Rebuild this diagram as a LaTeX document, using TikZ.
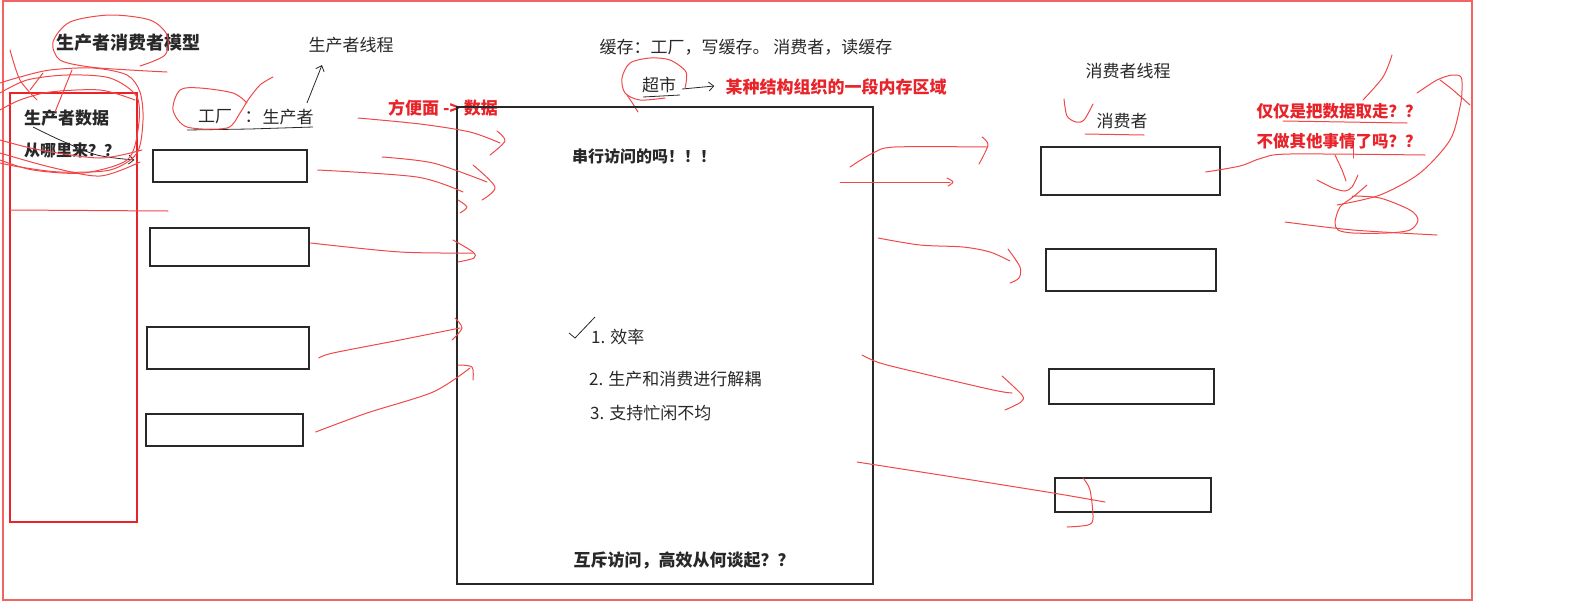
\documentclass[tikz,border=0pt]{standalone}
\usepackage{fontspec}
\setmainfont{Noto Sans CJK SC}
\usetikzlibrary{arrows.meta,positioning,calc}
\definecolor{penred}{RGB}{240,72,72}
\definecolor{mark}{RGB}{232,36,42}
\definecolor{ink}{RGB}{40,40,40}
\tikzset{
  slot/.style={draw=ink, line width=1.3pt, rectangle, inner sep=0pt},
  word/.style={font=\fontsize{17}{20}\selectfont, inner sep=0pt, text=ink},
  bword/.style={word, font=\fontsize{17}{20}\selectfont\bfseries},
  rword/.style={bword, text=mark},
  scrib/.style={draw=penred, line width=1pt, line cap=round, line join=round},
  inkarrow/.style={draw=ink, line width=0.8pt, -{Straight Barb[length=5pt,width=9pt]}},
}

\begin{document}
\begin{tikzpicture}[x=1pt,y=-1pt]
        \useasboundingbox (0,0) rectangle (1589,603);
        \draw[penred!85, line width=1.2pt] (3,1) rectangle (1472,600);

        % producer side
        \node[bword, font=\fontsize{18}{20}\selectfont\bfseries] (title) at (128,43) {生产者消费者模型};
        \node[word] (pthread) at (351,45) {生产者线程};
        \node[word] (factory) at (215,117) {工厂};
        \node[word] (colon) at (253,117) {：};
        \node[word] (producer) at (288,117) {生产者};
        \draw[ink, line width=0.8pt] (187,130) -- (250,129) -- (313,127);
        \draw[inkarrow] ([xshift=19pt,yshift=6pt]producer.north) -- ([xshift=-29pt,yshift=-12pt]pthread.south);
        \node[rword] (noodle) at (443,108) {方便面 -> 数据};

        \node[draw=mark, line width=2.6pt, inner sep=0pt, minimum width=127pt, minimum height=429pt] (source) at (73.5,307.5) {};
        \node[bword, anchor=west] (ask1) at (24,118) {生产者数据};
        \node[bword, anchor=west, font=\fontsize{16}{20}\selectfont\bfseries] (ask2) at (24,150) {从哪里来？？};

        \node[slot, minimum width=154pt, minimum height=32pt] (p1) at (230,166) {};
        \node[slot, minimum width=159pt, minimum height=38pt] (p2) at (229.5,247) {};
        \node[slot, minimum width=162pt, minimum height=42pt] (p3) at (228,348) {};
        \node[slot, minimum width=157pt, minimum height=32pt] (p4) at (224.5,430) {};

        \draw[inkarrow] plot[smooth] coordinates {([xshift=9pt,yshift=-9pt]ask1.west) (60,140) (97,155) ([xshift=-18pt,yshift=6pt]p1.west)};

        % buffer
        \node[word] (cache) at (746,47) {缓存：工厂，写缓存。 消费者，读缓存};
        \node[word] (market) at (659,85) {超市};
        \node[rword] (memory) at (836,87) {某种结构组织的一段内存区域};
        \draw[ink, line width=0.8pt] (643,97) -- (680,95);
        \draw[inkarrow] ([xshift=6pt,yshift=-4pt]market.east) -- ([xshift=-11pt,yshift=1pt]memory.west);
        \draw[scrib] plot[smooth] coordinates {(685,88) (686,72) (670,60) (650,58) (630,63) (622,78) (625,93) (640,100) (665,98)};
        \draw[scrib] plot[smooth] coordinates {(627,95) (633,104) (638,112)};

        \node[slot, line width=1.2pt, minimum width=416pt, minimum height=477pt] (buffer) at (665,345.5) {};
        \node[bword, font=\fontsize{16}{20}\selectfont\bfseries] (serial) at (644,156) {串行访问的吗！！！};
        \node[word, anchor=west] (gain1) at (591,337) {1. 效率};
        \node[word, anchor=west] (gain2) at (589,379) {2. 生产和消费进行解耦};
        \node[word, anchor=west] (gain3) at (590,413) {3. 支持忙闲不均};
        \node[bword] (mutex) at (684,560) {互斥访问，高效从何谈起？？};
        \draw[ink, line width=0.8pt] (569,333) -- (575,338) -- (595,317);

        % consumer side
        \node[word] (cthread) at (1128,71) {消费者线程};
        \node[word] (consumer) at (1122,121) {消费者};
        \node[slot, minimum width=179pt, minimum height=48pt] (c1) at (1130.5,171) {};
        \node[slot, minimum width=170pt, minimum height=42pt] (c2) at (1131,270) {};
        \node[slot, minimum width=165pt, minimum height=35pt] (c3) at (1131.5,386.5) {};
        \node[slot, minimum width=156pt, minimum height=34pt] (c4) at (1133,495) {};
        \node[rword, font=\fontsize{16.5}{20}\selectfont\bfseries] (only1) at (1339,111) {仅仅是把数据取走？？};
        \node[rword, font=\fontsize{16.5}{20}\selectfont\bfseries] (only2) at (1339,141) {不做其他事情了吗？？};

        % red scribbles, left
        \draw[scrib] plot[smooth] coordinates {(140,66) (165,55) (167,35) (150,20) (110,15) (70,22) (53,42) (60,60) (90,67) (130,70) (167,72)};
        \draw[scrib] plot[smooth] coordinates {(0,83) (20,77) (50,70) (93,68) (127,75) (140,92) (143,120) (137,153) (110,170) (60,172) (20,167) (0,163)};
        \draw[scrib] plot[smooth] coordinates {(0,93) (27,80) (67,75) (110,78) (137,97) (138,130) (127,160) (83,173) (33,170) (0,160)};
        \draw[scrib] plot[smooth] coordinates {(0,140) (40,150) (100,158) (142,150)};
        \draw[scrib] plot[smooth] coordinates {(0,153) (50,167) (100,176) (140,162)};
        \draw[scrib] plot[smooth] coordinates {(0,110) (20,100) (50,92) (100,90) (135,100)};
        \draw[scrib] plot[smooth] coordinates {(10,50) (20,80) (37,100)};
        \draw[scrib] (72,70) -- (55,112);
        \draw[scrib] (43,73) -- (30,90);
        \draw[scrib] (10,210) -- (168,211);
        \draw[scrib] plot[smooth] coordinates {(247,103) (233,93) (200,88) (180,90) (173,110) (187,127) (227,128) (240,113) (248,100) (260,85) (273,77)};

        % red scribbles, producers to buffer
        \draw[scrib] plot[smooth] coordinates {(358,118) (420,124) (470,132) (500,143)};
        \draw[scrib] plot[smooth] coordinates {(497,131) (505,141) (490,155)};
        \draw[scrib] plot[smooth] coordinates {(382,157) (433,163) (487,182)};
        \draw[scrib] plot[smooth] coordinates {(473,165) (495,187) (482,200)};
        \draw[scrib] plot[smooth] coordinates {([xshift=10pt,yshift=-4pt]p1.east) (417,177) (463,192)};
        \draw[scrib] plot[smooth] coordinates {(458,200) (467,207) (460,213)};
        \draw[scrib] plot[smooth] coordinates {([xshift=1pt,yshift=4pt]p2.east) (400,252) (473,253)};
        \draw[scrib] plot[smooth] coordinates {(453,240) (473,252) (474,258) (458,262)};
        \draw[scrib] plot[smooth] coordinates {([xshift=9pt,yshift=-10pt]p3.east) (333,353) (400,340) (460,328)};
        \draw[scrib] plot[smooth] coordinates {(455,318) (462,328) (452,340)};
        \draw[scrib] plot[smooth] coordinates {([xshift=12pt,yshift=-2pt]p4.east) (367,413) (433,392) (470,368)};
        \draw[scrib] plot[smooth] coordinates {(458,365) (472,367) (473,380)};

        % red scribbles, buffer to consumers
        \draw[scrib] plot[smooth] coordinates {(850,167) (873,153) (895,147) (987,147)};
        \draw[scrib] plot[smooth] coordinates {(982,137) (988,145) (979,164)};
        \draw[scrib] (840,182) -- (950,182);
        \draw[scrib] plot[smooth] coordinates {(947,178) (953,182) (948,186)};
        \draw[scrib] plot[smooth] coordinates {(878,238) (920,245) (963,247) (990,252) (1010,261)};
        \draw[scrib] plot[smooth] coordinates {(1008,249) (1020,267) (1019,278) (1010,283)};
        \draw[scrib] plot[smooth] coordinates {(862,355) (880,363) (920,373) (993,390) (1012,393)};
        \draw[scrib] plot[smooth] coordinates {(1002,376) (1022,395) (1021,402) (1005,410)};
        \draw[scrib] plot[smooth] coordinates {(857,462) (953,477) (1053,493) (1105,502)};
        \draw[scrib] plot[smooth] coordinates {(1083,478) (1090,490) (1093,518) (1088,525) (1067,527)};

        % red scribbles, right
        \draw[scrib] plot[smooth] coordinates {(1064,99) (1067,116) (1076,122) (1084,120) (1093,104)};
        \draw[scrib] (1085,134) -- (1144,135);
        \draw[scrib] plot[smooth] coordinates {([xshift=-15pt,yshift=-1pt]c1.east) (1240,166) (1262,158) (1290,154) (1425,155)};
        \draw[scrib] (1283,121) -- (1407,123);
        \draw[scrib] (1353,148) -- (1353,158);
        \draw[scrib] plot[smooth] coordinates {(1335,155) (1342,170) (1346,181)};
        \draw[scrib] plot[smooth] coordinates {(1317,180) (1333,188) (1345,191) (1352,187) (1358,175)};
        \draw[scrib] plot[smooth] coordinates {(1392,55) (1383,77) (1363,100)};
        \draw[scrib] plot[smooth] coordinates {(1417,93) (1437,80) (1452,75) (1461,77) (1462,90) (1460,107) (1450,140) (1420,173) (1380,195) (1337,205)};
        \draw[scrib] plot[smooth] coordinates {(1352,196) (1380,198) (1410,210) (1418,220) (1410,230) (1387,233) (1353,233) (1338,230) (1335,222) (1340,207) (1353,197) (1367,185)};
        \draw[scrib] plot[smooth] coordinates {(1440,80) (1453,90) (1470,105)};
        \draw[scrib] plot[smooth] coordinates {(1285,222) (1353,230) (1437,235)};
\end{tikzpicture}
\end{document}
